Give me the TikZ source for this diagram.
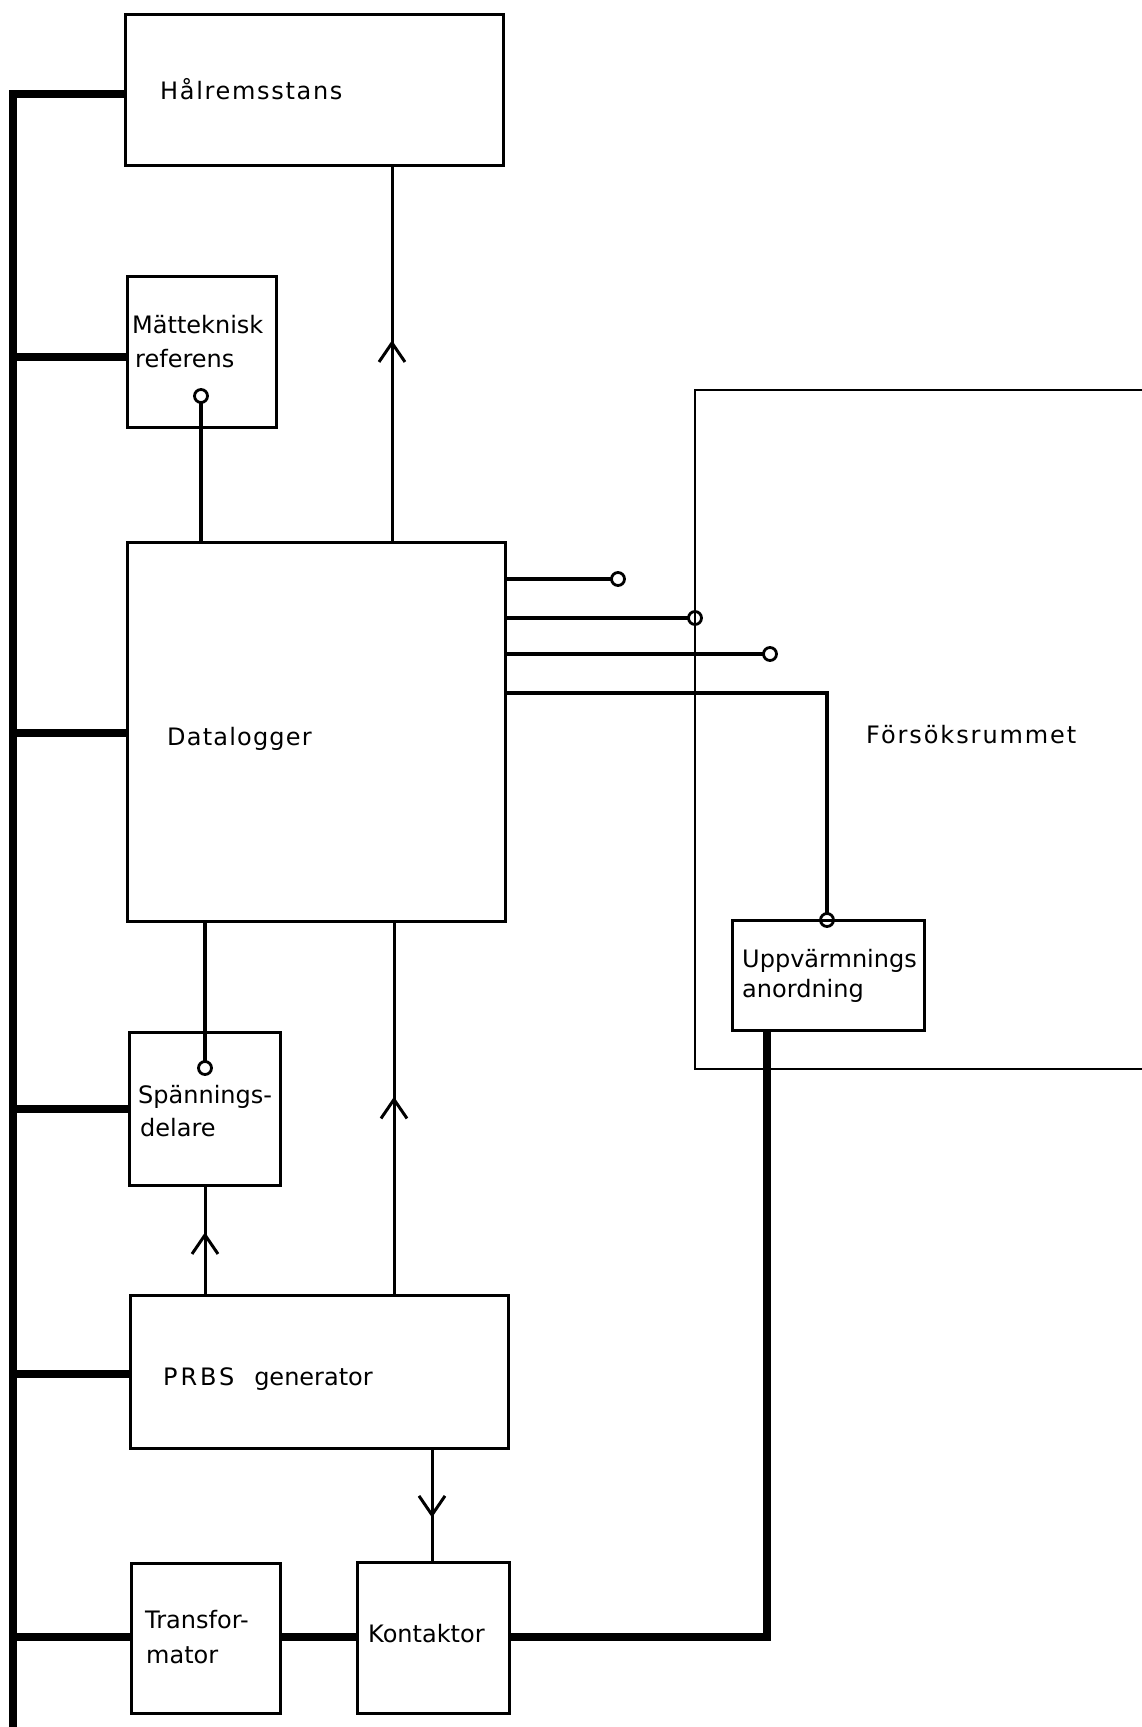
\documentclass[tikz,border=0pt]{standalone}
\usepackage{fontspec}
\setmainfont{DejaVu Sans}
\usetikzlibrary{arrows.meta,decorations.markings}
\begin{document}
\begin{tikzpicture}[x=1pt,y=-1pt,
  box/.style={draw, line width=3pt, rectangle, inner sep=0pt, outer sep=0pt},
  lbl/.style={anchor=base west, inner sep=0pt, font=\fontsize{24}{28}\selectfont},
  sig/.style={line width=3pt},
  med/.style={line width=4.5pt},
  power/.style={line width=8pt},
  wall/.style={line width=2.8pt},
  term/.style={circle, draw, line width=2.8pt, minimum size=13pt, inner sep=0pt, outer sep=0pt},
  flow/.style={sig, postaction={decorate}, decoration={markings, mark=at position #1 with {\arrow{Straight Barb[length=19pt,width=26pt,line width=3pt]}}}},
]
\useasboundingbox (0,0) rectangle (1142,1727);

% boxes
\node[box, minimum width=378pt, minimum height=151pt] (hal)  at (314,89.5) {};
\node[box, minimum width=149pt, minimum height=151pt] (mat)  at (201.5,351.5) {};
\node[box, minimum width=378pt, minimum height=379pt] (dat)  at (316,731.5) {};
\node[box, minimum width=151pt, minimum height=153pt] (spa)  at (204.5,1108.5) {};
\node[box, minimum width=378pt, minimum height=153pt] (prbs) at (319,1371.5) {};
\node[box, minimum width=149pt, minimum height=150pt] (tra)  at (205.5,1638) {};
\node[box, minimum width=152pt, minimum height=151pt] (kon)  at (433,1637.5) {};
\node[box, minimum width=192pt, minimum height=110pt] (upp)  at (828,975) {};

% test room
\coordinate (rtr) at (1142,390);
\coordinate (rtl) at (695,390);
\coordinate (rbl) at (695,1069);
\coordinate (rbr) at (1142,1069);
\draw[wall, line join=miter] (rtr) -- (rtl) -- (rbl) -- (rbr);

% labels
\node[lbl] (thal) at (160,99) {\addfontfeatures{LetterSpace=7}Hålremsstans};
\node[lbl] (tmat1) at (132,333) {Mätteknisk};
\node[lbl] (tmat2) at (135,367) {referens};
\node[lbl] (tdat) at (167,745) {\addfontfeatures{LetterSpace=5}Datalogger};
\node[lbl] (troom) at (866,743) {\addfontfeatures{LetterSpace=8}Försöksrummet};
\node[lbl] (tupp1) at (742,967) {Uppvärmnings};
\node[lbl] (tupp2) at (742,997) {anordning};
\node[lbl] (tspa1) at (138,1103) {Spännings-};
\node[lbl] (tspa2) at (140,1136) {delare};
\node[lbl] (tprbs) at (163,1385) {{\addfontfeatures{LetterSpace=12}PRBS}\hspace{20pt}generator};
\node[lbl] (ttra1) at (145,1628) {Transfor-};
\node[lbl] (ttra2) at (146,1663) {mator};
\node[lbl] (tkon) at (368,1642) {Kontaktor};

% power bus
\coordinate (bustop) at (13,94);
\coordinate (busbot) at (13,1727);
\draw[power, line join=miter] (hal.west |- bustop) -- (bustop) -- (busbot);
\coordinate (tmat) at (13,357);
\coordinate (tdatc) at (13,733);
\coordinate (tspa) at (13,1109);
\coordinate (tprbs) at (13,1374);
\coordinate (ttra) at (13,1637);
\draw[power] (tmat) -- (tmat -| mat.west);
\draw[power] (tdatc) -- (tdatc -| dat.west);
\draw[power] (tspa) -- (tspa -| spa.west);
\draw[power] (tprbs) -- (tprbs -| prbs.west);
\draw[power] (ttra) -- (ttra -| tra.west);

% terminals
\node[term] (cm) at (201,396) {};
\node[term] (cs) at (205,1068) {};
\node[term] (c1) at (618,579) {};
\node[term] (c2) at (695,618) {};
\node[term] (c3) at (770,654) {};
\node[term] (cu) at (827,920) {};

% measuring lines
\draw[med] (cm) -- (cm |- dat.north);
\draw[med] (cs |- dat.south) -- (cs);
\draw[med] (c1 -| dat.east) -- (c1);
\draw[med] (c2 -| dat.east) -- (c2);
\draw[med] (c3 -| dat.east) -- (c3);
\coordinate (k4) at (827,693);
\draw[med, line join=miter] (k4 -| dat.east) -- (k4) -- (cu);

% power to heater
\coordinate (k5) at (767,1637);
\draw[power, line join=miter] (k5 -| kon.east) -- (k5) -- (k5 |- upp.south);
\draw[power] (k5 -| tra.east) -- (k5 -| kon.west);

% signal arrows
\coordinate (x1) at (392,0);
\coordinate (x2) at (394,0);
\coordinate (x3) at (205,0);
\coordinate (x4) at (432,0);
\draw[flow=0.535] (x1 |- dat.north) -- (x1 |- hal.south);
\draw[flow=0.53] (x2 |- prbs.north) -- (x2 |- dat.south);
\draw[flow=0.57] (x3 |- prbs.north) -- (x3 |- spa.south);
\draw[flow=0.61] (x4 |- prbs.south) -- (x4 |- kon.north);
\end{tikzpicture}
\end{document}
